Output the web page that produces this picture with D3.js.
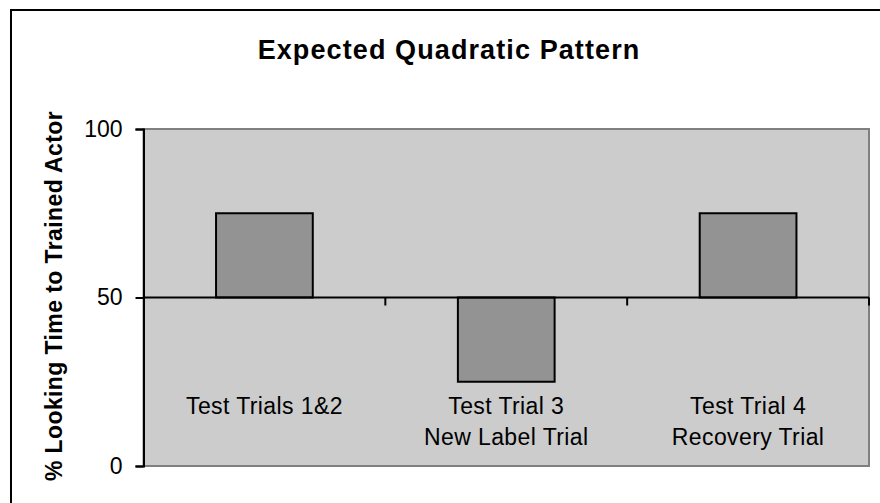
<!DOCTYPE html>
<html>
<head>
<meta charset="utf-8">
<script src="https://cdn.jsdelivr.net/npm/d3@7"></script>
<style>
  html, body { margin: 0; padding: 0; background: #fff; }
  svg { display: block; }
  text { font-family: "Liberation Sans", Arial, sans-serif; }
</style>
</head>
<body>
<svg id="chart" width="880" height="503"></svg>
<script>
const categories = [["Test Trials 1&2"], ["Test Trial 3", "New Label Trial"], ["Test Trial 4", "Recovery Trial"]];
const values = [75, 25, 75];
const baseline = 50;
const yTicks = [0, 50, 100];
const title = "Expected Quadratic Pattern";
const yTitle = "% Looking Time to Trained Actor";

const svg = d3.select("#chart");
const plot = { left: 143.5, right: 869, top: 129, bottom: 466 };

// outer frame
svg.append("rect").attr("x", 11).attr("y", 10).attr("width", 900).attr("height", 520)
  .attr("fill", "#fff").attr("stroke", "#000").attr("stroke-width", 2);

const idx = categories.map((d, i) => i);
const xCat = d3.scaleBand().domain(idx).range([plot.left, plot.right]).padding(0);
const xBar = d3.scaleBand().domain(idx).range([plot.left, plot.right]).paddingInner(0.6).paddingOuter(0.3);
const y = d3.scaleLinear().domain([0, 100]).range([plot.bottom, plot.top]);

// plot background
svg.append("rect").attr("x", plot.left).attr("y", plot.top)
  .attr("width", plot.right - plot.left).attr("height", plot.bottom - plot.top)
  .attr("fill", "#cccccc").attr("stroke", "#808080").attr("stroke-width", 2);

// bars
svg.selectAll("rect.bar").data(values).join("rect").attr("class", "bar")
  .attr("x", (d, i) => xBar(i))
  .attr("width", xBar.bandwidth())
  .attr("y", d => y(Math.max(d, baseline)))
  .attr("height", d => Math.abs(y(d) - y(baseline)))
  .attr("fill", "#939393").attr("stroke", "#000").attr("stroke-width", 2);

// horizontal category axis at baseline
const xAxisG = svg.append("g").attr("transform", `translate(0,${y(baseline)})`);
xAxisG.append("line").attr("x1", plot.left).attr("x2", plot.right).attr("stroke", "#000").attr("stroke-width", 2);
xAxisG.selectAll("line.tick").data(idx).join("line").attr("class", "tick")
  .attr("x1", i => xCat(i) + xCat.bandwidth()).attr("x2", i => xCat(i) + xCat.bandwidth())
  .attr("y1", 0).attr("y2", 8).attr("stroke", "#000").attr("stroke-width", 2);

// y axis
const yAxis = d3.axisLeft(y).tickValues(yTicks).tickSize(8).tickPadding(13).tickFormat(d3.format("d"));
const yG = svg.append("g").attr("transform", `translate(${plot.left},0)`).call(yAxis);
yG.select(".domain").attr("stroke", "#000").attr("stroke-width", 2);
yG.selectAll(".tick line").attr("stroke", "#000").attr("stroke-width", 2);
yG.selectAll(".tick text").attr("font-size", 23).attr("fill", "#000")
  .attr("font-family", "'Liberation Sans', Arial, sans-serif");

// category labels
const labG = svg.append("g");
categories.forEach((lines, i) => {
  const t = labG.append("text").attr("text-anchor", "middle")
    .attr("font-size", 23).style("letter-spacing", "0.4px").attr("fill", "#000");
  lines.forEach((ln, j) => {
    t.append("tspan").attr("x", xCat(i) + xCat.bandwidth() / 2).attr("y", 414 + j * 31).text(ln);
  });
});

// title
svg.append("text").attr("x", 449).attr("y", 59).attr("text-anchor", "middle")
  .attr("font-size", 27).attr("font-weight", "bold").style("letter-spacing", "1.1px").text(title);

// y title
svg.append("text").attr("transform", `translate(62,296) rotate(-90)`).attr("text-anchor", "middle")
  .attr("font-size", 23).attr("font-weight", "bold").style("letter-spacing", "0.4px").text(yTitle);
</script>
</body>
</html>
